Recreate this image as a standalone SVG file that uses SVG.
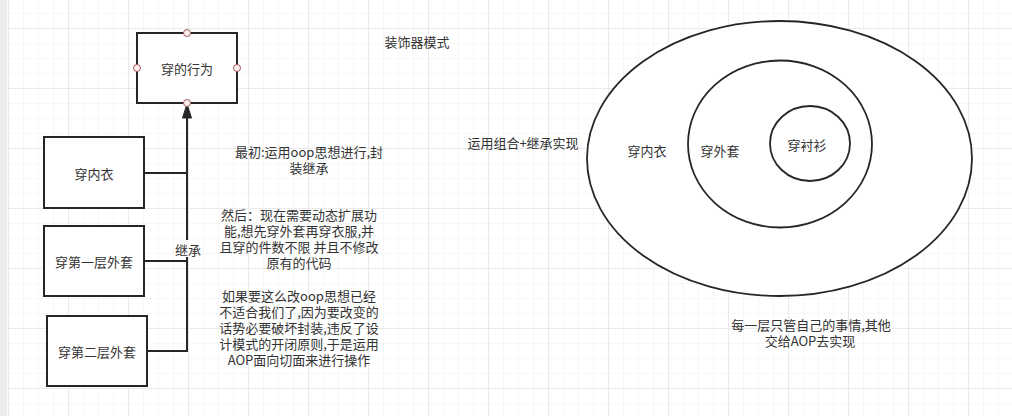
<svg xmlns="http://www.w3.org/2000/svg" width="1012" height="416" viewBox="0 0 1012 416">
  <style>
    .t { font-family: "Noto Sans CJK SC", "Liberation Sans", sans-serif; font-size: 13px; fill: #333333; text-anchor: middle; dominant-baseline: central; }
    .box { fill: #ffffff; stroke: #262626; stroke-width: 2; }
    .ell { fill: #ffffff; stroke: #262626; stroke-width: 1.8; }
    .edge { fill: none; stroke: #262626; stroke-width: 2; }
    .head { fill: #262626; stroke: #262626; stroke-width: 1; }
    .pt { fill: #fbeeee; stroke: #a65c5c; stroke-width: 1; }
  </style>
  <defs>
    <pattern id="minor" x="8" y="28" width="15" height="15" patternUnits="userSpaceOnUse">
      <path d="M0 0H15M0 0V15" fill="none" stroke="#f0f0f0" stroke-width="1"/>
    </pattern>
    <pattern id="major" x="8" y="28" width="60" height="60" patternUnits="userSpaceOnUse">
      <path d="M0 0H60M0 0V60" fill="none" stroke="#dedede" stroke-width="1"/>
    </pattern>
  </defs>

  <rect width="1012" height="416" fill="#ffffff"/>
  <rect width="1012" height="416" fill="url(#minor)"/>
  <rect width="1012" height="416" fill="url(#major)"/>
  <rect x="0" y="0" width="7" height="416" fill="#ececec"/>

  <g id="connectors">
    <path class="edge" d="M144 173H187"/>
    <path class="edge" d="M144 261H187"/>
    <path class="edge" d="M147 351H187V116"/>
    <path class="head" d="M187 104L191.5 118H182.5Z"/>
    <rect x="174" y="240" width="28" height="17" fill="#ffffff"/>
    <text class="t" x="188" y="249">继承</text>
  </g>

  <g id="node-behavior">
    <rect class="box" x="137" y="33" width="100" height="70"/>
    <text class="t" x="187" y="68">穿的行为</text>
    <circle class="pt" cx="187" cy="33" r="3.5"/>
    <circle class="pt" cx="137" cy="68" r="3.5"/>
    <circle class="pt" cx="237" cy="68" r="3.5"/>
    <circle class="pt" cx="187" cy="103" r="3.5"/>
  </g>

  <g id="node-underwear">
    <rect class="box" x="44" y="137" width="100" height="71"/>
    <text class="t" x="94" y="173">穿内衣</text>
  </g>

  <g id="node-coat1">
    <rect class="box" x="44" y="226" width="100" height="70"/>
    <text class="t" x="94" y="261">穿第一层外套</text>
  </g>

  <g id="node-coat2">
    <rect class="box" x="47" y="316" width="100" height="70"/>
    <text class="t" x="97" y="351">穿第二层外套</text>
  </g>

  <g id="title">
    <text class="t" x="417" y="41">装饰器模式</text>
  </g>

  <g id="notes">
    <text class="t" y="151"><tspan x="309">最初:运用oop思想进行,封</tspan><tspan x="309" dy="16">装继承</tspan></text>

    <text class="t" y="214"><tspan x="299">然后：现在需要动态扩展功</tspan><tspan x="299" dy="16">能,想先穿外套再穿衣服,并</tspan><tspan x="299" dy="16">且穿的件数不限 并且不修改</tspan><tspan x="299" dy="16">原有的代码</tspan></text>

    <text class="t" y="295"><tspan x="299">如果要这么改oop思想已经</tspan><tspan x="299" dy="16">不适合我们了,因为要改变的</tspan><tspan x="299" dy="16">话势必要破坏封装,违反了设</tspan><tspan x="299" dy="16">计模式的开闭原则,于是运用</tspan><tspan x="299" dy="16">AOP面向切面来进行操作</tspan></text>
  </g>

  <g id="label-combo">
    <text class="t" x="523" y="142">运用组合+继承实现</text>
  </g>

  <g id="ellipse-outer">
    <ellipse class="ell" cx="779.5" cy="158.5" rx="192.5" ry="137.5"/>
    <text class="t" x="647" y="150">穿内衣</text>
  </g>

  <g id="ellipse-middle">
    <ellipse class="ell" cx="780" cy="144" rx="92" ry="83.5"/>
    <text class="t" x="720" y="150">穿外套</text>
  </g>

  <g id="ellipse-inner">
    <ellipse class="ell" cx="810" cy="143.5" rx="40" ry="37.5"/>
    <text class="t" x="807" y="144">穿衬衫</text>
  </g>

  <g id="label-aop">
    <text class="t" y="324"><tspan x="811">每一层只管自己的事情,其他</tspan><tspan x="810" dy="16">交给AOP去实现</tspan></text>
  </g>
</svg>
